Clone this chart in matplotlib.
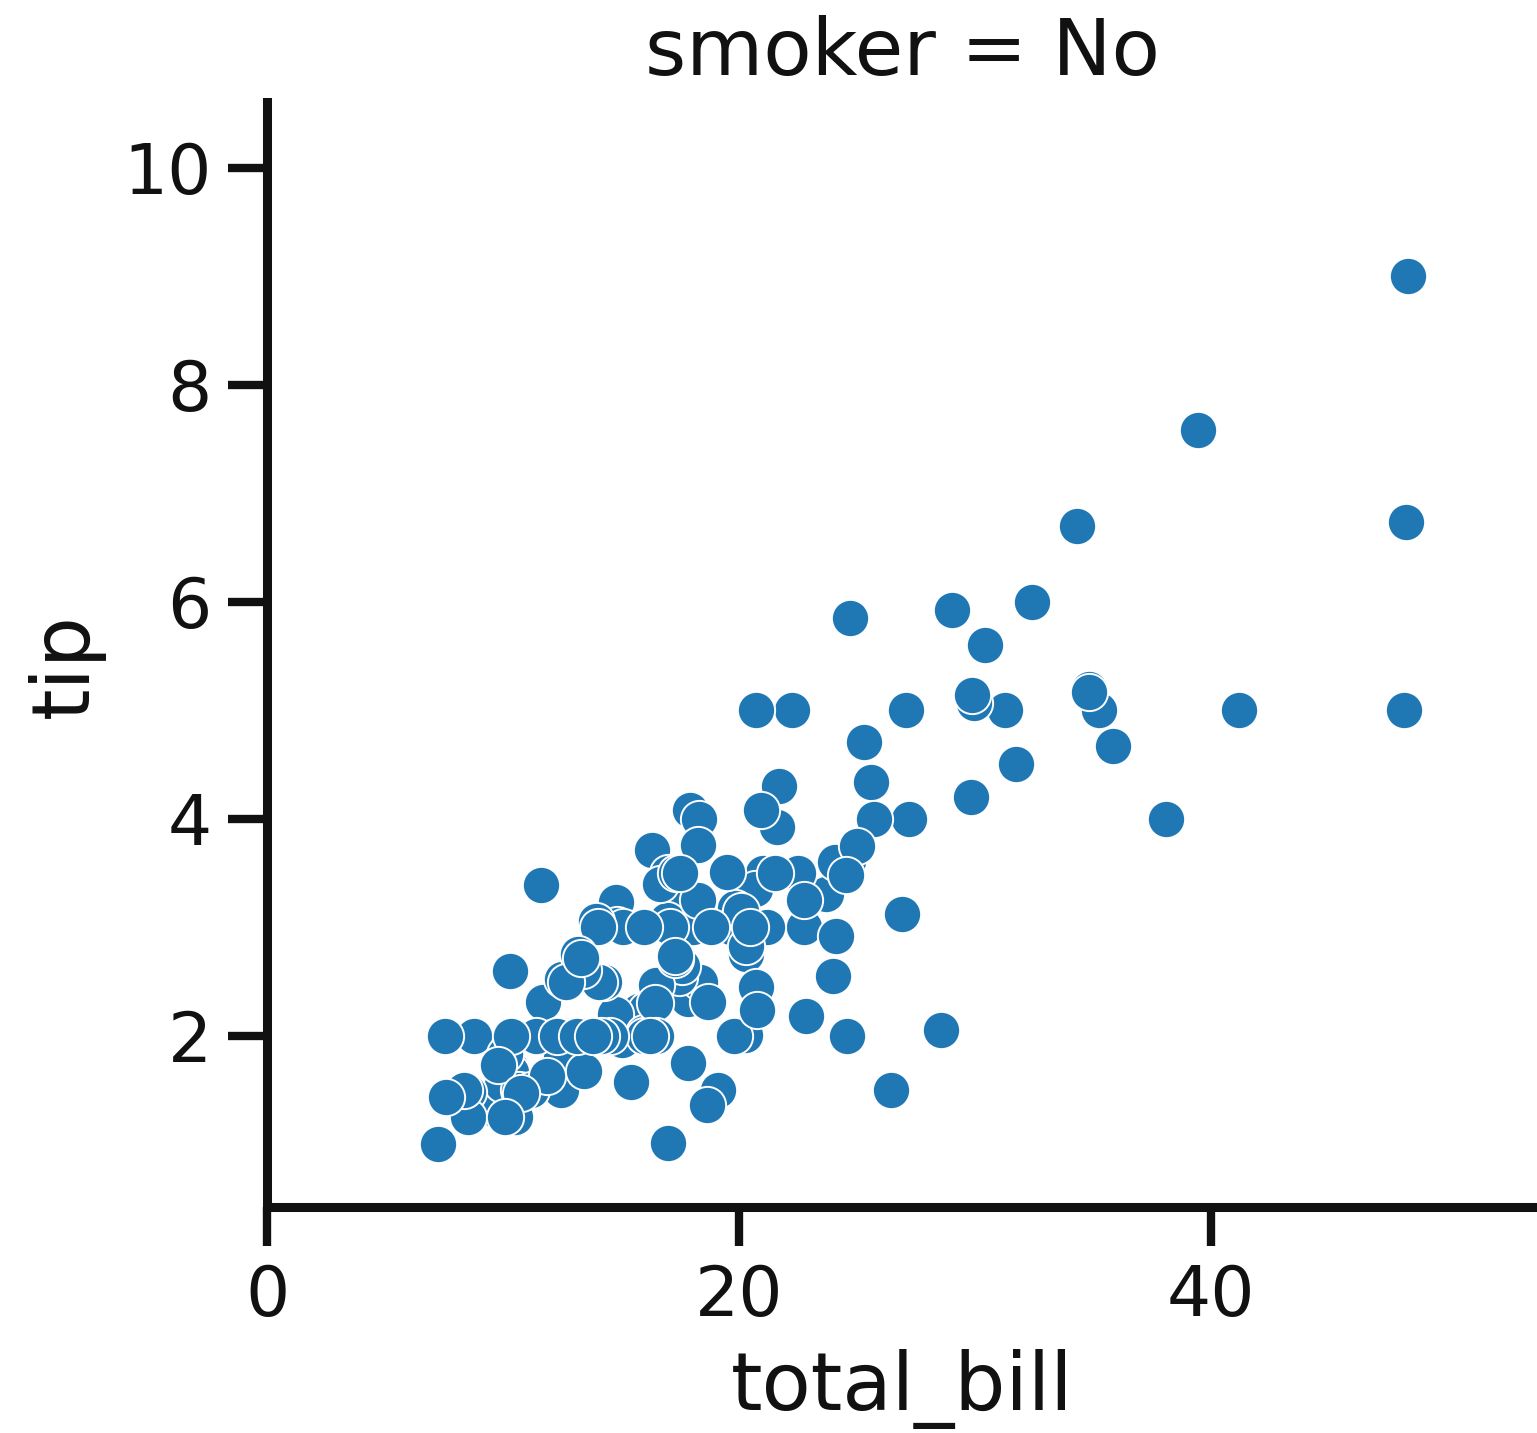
import numpy as np
import matplotlib
matplotlib.use("Agg")
import matplotlib.pyplot as plt

# tips, smoker == "No" (151 rows)
total_bill = [
    16.99, 10.34, 21.01, 23.68, 24.59, 25.29, 8.77, 26.88, 15.04, 14.78,
    10.27, 35.26, 15.42, 18.43, 14.83, 21.58, 10.33, 16.29, 16.97, 20.65,
    17.92, 20.29, 15.77, 39.42, 19.82, 17.81, 13.37, 12.69, 21.70, 19.65,
    9.55, 18.35, 15.06, 20.69, 17.78, 24.06, 16.31, 16.93, 18.69, 31.27,
    16.04, 17.46, 13.94, 9.68, 30.40, 18.29, 22.23, 32.40, 28.55, 18.04,
    12.54, 10.29, 34.81, 9.94, 25.56, 19.49, 26.41, 48.27, 17.59, 20.08,
    16.45, 20.23, 12.02, 17.07, 14.73, 10.51, 27.20, 22.76, 17.29, 16.66,
    10.07, 15.98, 34.83, 13.03, 18.28, 24.71, 21.16, 22.49, 22.75, 12.46,
    20.92, 18.24, 14.00, 7.25, 38.07, 23.95, 25.71, 17.31, 29.93, 10.65,
    12.43, 24.08, 11.69, 13.42, 14.26, 15.95, 12.48, 29.80, 8.52, 14.52,
    11.38, 22.82, 19.08, 20.27, 11.17, 12.26, 18.26, 8.51, 10.33, 14.15,
    13.16, 17.47, 34.30, 41.19, 27.05, 16.43, 8.35, 18.64, 11.87, 9.78,
    7.51, 14.07, 13.13, 17.26, 24.55, 19.77, 29.85, 48.17, 25.00, 13.39,
    16.49, 21.50, 12.66, 16.21, 13.81, 24.52, 20.76, 31.71, 20.69, 7.56,
    48.33, 15.98, 20.45, 13.28, 11.61, 10.77, 10.07, 35.83, 29.03, 17.82,
    18.78,
]
tip = [
    1.01, 1.66, 3.50, 3.31, 3.61, 4.71, 2.00, 3.12, 1.96, 3.23,
    1.71, 5.00, 1.57, 3.00, 3.02, 3.92, 1.67, 3.71, 3.50, 3.35,
    4.08, 2.75, 2.23, 7.58, 3.18, 2.34, 2.00, 2.00, 4.30, 3.00,
    1.45, 2.50, 3.00, 2.45, 3.27, 3.60, 2.00, 3.07, 2.31, 5.00,
    2.24, 2.54, 3.06, 1.32, 5.60, 3.00, 5.00, 6.00, 2.05, 3.00,
    2.50, 2.60, 5.20, 1.56, 4.34, 3.51, 1.50, 6.73, 2.64, 3.15,
    2.47, 2.01, 1.97, 3.00, 2.20, 1.25, 4.00, 3.00, 2.71, 3.40,
    1.83, 2.03, 5.17, 2.00, 4.00, 5.85, 3.00, 3.50, 3.25, 1.50,
    4.08, 3.76, 3.00, 1.00, 4.00, 2.55, 4.00, 3.50, 5.07, 1.50,
    1.80, 2.92, 2.31, 1.68, 2.50, 2.00, 2.52, 4.20, 1.48, 2.00,
    2.00, 2.18, 1.50, 2.83, 1.50, 2.00, 3.25, 1.25, 2.00, 2.00,
    2.75, 3.50, 6.70, 5.00, 5.00, 2.30, 1.50, 1.36, 1.63, 1.73,
    2.00, 2.50, 2.00, 2.74, 2.00, 2.00, 5.14, 5.00, 3.75, 2.61,
    2.00, 3.50, 2.50, 2.00, 2.00, 3.48, 2.24, 4.50, 5.00, 1.44,
    9.00, 3.00, 3.00, 2.72, 3.39, 1.47, 1.25, 4.67, 5.92, 1.75,
    3.00,
]
x_ticks = [0, 20, 40]
y_ticks = [2, 4, 6, 8, 10]

fig = plt.figure(figsize=(15.37, 14.33), dpi=100)
ax = fig.add_axes([0.1739, 0.1575, 0.8261, 0.771])

ax.scatter(total_bill, tip, s=720, color="#1f77b4", edgecolor="white",
           linewidth=1.4, zorder=3)

ax.set_xlim(0, 53.8)
ax.set_ylim(0.42, 10.60)
ax.set_xticks(x_ticks)
ax.set_yticks(y_ticks)

for side in ["top", "right"]:
    ax.spines[side].set_visible(False)
for side in ["left", "bottom"]:
    ax.spines[side].set_linewidth(6.5)
    ax.spines[side].set_color("#111111")

ax.tick_params(axis="both", length=28, width=6, color="#111111",
               labelsize=50, pad=12, labelcolor="#111111")

ax.set_xlabel("total_bill", fontsize=58, labelpad=14, color="#111111")
ax.set_ylabel("tip", fontsize=58, color="#111111")
ax.yaxis.set_label_coords(-0.128, 0.49)
ax.set_title("smoker = No", fontsize=57, pad=20, color="#111111")

fig.savefig("out.png", dpi=100)
